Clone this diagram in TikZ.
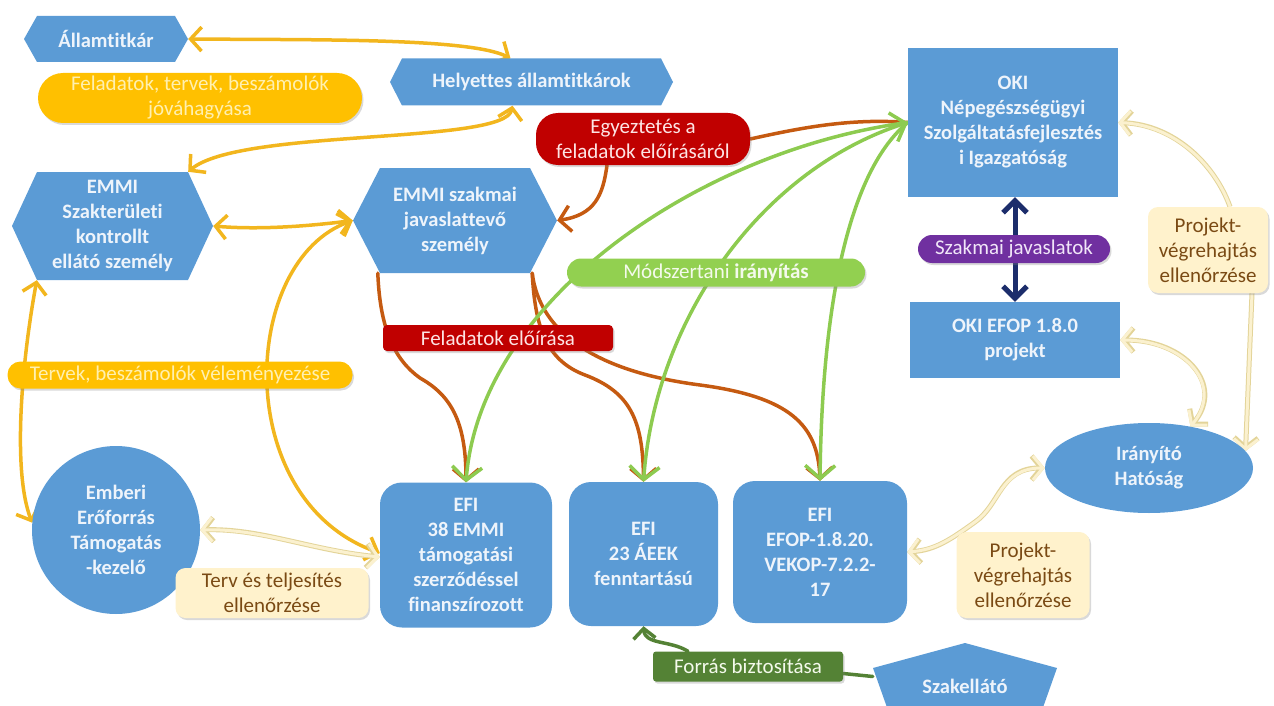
\documentclass[tikz,border=0pt]{standalone}
\usepackage{fontspec}
\setmainfont{Carlito}[Ligatures=NoCommon]
\usetikzlibrary{arrows.meta,shapes.geometric,shadows}
\definecolor{nb}{HTML}{5B9BD5}
\definecolor{nt}{HTML}{EEF4FB}
\definecolor{yel}{HTML}{F2B61E}
\definecolor{yelfill}{HTML}{FFC000}
\definecolor{yeltext}{HTML}{FFF0B0}
\definecolor{redfill}{HTML}{C00000}
\definecolor{redtext}{HTML}{FDE4E4}
\definecolor{brn}{HTML}{C55A11}
\definecolor{grn}{HTML}{8DCB50}
\definecolor{grnfill}{HTML}{92D050}
\definecolor{grntext}{HTML}{F4FAEC}
\definecolor{pur}{HTML}{7030A0}
\definecolor{purtext}{HTML}{F1E6F8}
\definecolor{navy}{HTML}{1C2D6B}
\definecolor{cream}{HTML}{FFF2CC}
\definecolor{creamin}{HTML}{FBF1CF}
\definecolor{creamdark}{HTML}{E3D499}
\definecolor{creamtext}{HTML}{7A4A14}
\definecolor{dgrn}{HTML}{548235}
\pgfdeclarelayer{bg}\pgfsetlayers{bg,main}
\tikzset{
  base/.style={inner sep=0pt, align=center},
  bluetxt/.style={base, text=nt, font=\bfseries\fontsize{20.5}{25}\selectfont},
  rbox/.style={bluetxt, rectangle, fill=nb},
  rrbox/.style={rbox, rounded corners=22pt},
  hexa/.style={bluetxt, rectangle, path picture={\fill[nb]
      (path picture bounding box.west) -- ([xshift=#1]path picture bounding box.north west)
      -- ([xshift=-#1]path picture bounding box.north east) -- (path picture bounding box.east)
      -- ([xshift=-#1]path picture bounding box.south east) -- ([xshift=#1]path picture bounding box.south west) -- cycle;}},
  penta/.style={bluetxt, rectangle, path picture={\fill[nb]
      (path picture bounding box.north) -- ([yshift=-25pt]path picture bounding box.north east)
      -- ([xshift=-22pt]path picture bounding box.south east) -- ([xshift=22pt]path picture bounding box.south west)
      -- ([yshift=-25pt]path picture bounding box.north west) -- cycle;}},
  lab/.style={base, font=\fontsize{21}{25}\selectfont, drop shadow={shadow xshift=1.5pt, shadow yshift=-2pt, opacity=.3}},
  ylab/.style={lab, fill=yelfill, text=yeltext},
  rlab/.style={lab, fill=redfill, text=redtext},
  glab/.style={lab, fill=grnfill, text=grntext},
  plab/.style={lab, fill=pur, text=purtext},
  clab/.style={lab, fill=cream, text=creamtext, rounded corners=10pt},
  dlab/.style={lab, fill=dgrn, text=grntext, rounded corners=3pt},
  conn/.style={line cap=round, line join=round},
  yarr/.style={conn, draw=yel, line width=3.5pt, >={Straight Barb[length=11pt,width=24pt]}},
  brarr/.style={conn, draw=brn, line width=3.5pt, >={Straight Barb[length=11pt,width=26pt]}},
  garr/.style={conn, draw=grn, line width=3.5pt, >={Straight Barb[length=13pt,width=30pt]}},
  narr/.style={conn, draw=navy, line width=5pt, >={Straight Barb[length=12pt,width=24pt]}},
  carr/.style={conn, draw=creamin, line width=3pt, preaction={draw=creamdark, line width=5pt}, >={Straight Barb[length=10pt,width=24pt]}},
  dgarr/.style={conn, draw=dgrn, line width=3.5pt, >={Straight Barb[length=10pt,width=22pt]}},
}
\begin{document}
\begin{tikzpicture}[x=1pt,y=-1pt]
\useasboundingbox (0,0) rectangle (1274,706);
\clip (0,0) rectangle (1274,706);
% blue nodes
\node[hexa=13pt, minimum width=164pt, minimum height=46pt] (Allam) at (106,39) {Államtitkár};
\node[hexa=12pt, minimum width=283pt, minimum height=47pt] (Helyettes) at (531.5,82) {Helyettes államtitkárok};
\node[hexa=25pt, minimum width=201pt, minimum height=108pt] (Szakt) at (112.5,226) {EMMI\\Szakterületi\\kontrollt\\ellátó személy};
\node[hexa=27pt, minimum width=204pt, minimum height=105pt] (Szakmai) at (455,220.5) {EMMI szakmai\\javaslattevő\\személy};
\node[rbox, minimum width=210pt, minimum height=149pt] (OKI) at (1013,122.5) {OKI\\Népegészségügyi\\Szolgáltatásfejlesztés\\i Igazgatóság};
\node[rbox, minimum width=210pt, minimum height=76pt] (OKIEFOP) at (1015,340) {OKI EFOP 1.8.0\\projekt};
\node[rrbox, minimum width=172pt, minimum height=145pt] (EFI38) at (466,555) {EFI\\38 EMMI\\támogatási\\szerződéssel\\finanszírozott};
\node[rrbox, minimum width=149pt, minimum height=144pt] (EFI23) at (643.5,554) {EFI\\23 ÁEEK\\fenntartású};
\node[rrbox, minimum width=174pt, minimum height=142pt] (EFOP) at (820,552) {EFI\\EFOP-1.8.20.\\VEKOP-7.2.2-\\17};
\node[bluetxt, circle, fill=nb, minimum size=168pt] (Emberi) at (116,530) {Emberi\\Erőforrás\\Támogatás\\-kezelő};
\node[bluetxt, ellipse, fill=nb, minimum width=208pt, minimum height=90pt] (Iran) at (1149,468) {Irányító\\Hatóság};
\node[penta, minimum width=184pt, minimum height=87pt] (Szak) at (965,686.5) {Szakellátó};
% labels
\node[ylab, rounded corners=25pt, minimum width=324pt, minimum height=50pt] (Ljova) at (200,98) {Feladatok, tervek, beszámolók\\jóváhagyása};
\node[rlab, rounded corners=22pt, minimum width=214pt, minimum height=52pt] (Egy) at (643,139) {Egyeztetés a\\feladatok előírásáról};
\node[glab, rounded corners=14pt, minimum width=298pt, minimum height=28pt] (Modsz) at (716,272.5) {Módszertani \textbf{irányítás}};
\node[rlab, rounded corners=4pt, minimum width=230pt, minimum height=26pt] (Felad) at (498,338) {Feladatok előírása};
\node[ylab, rounded corners=13pt, minimum width=345pt, minimum height=27pt] (Lterv) at (180,375) {Tervek, beszámolók véleményezése};
\node[plab, rounded corners=14pt, minimum width=192pt, minimum height=28pt] (Lszakm) at (1014,249) {Szakmai javaslatok};
\node[clab, minimum width=120pt, minimum height=86pt] (Proj1) at (1208,250) {Projekt-\\végrehajtás\\ellenőrzése};
\node[clab, minimum width=133pt, minimum height=86pt] (Proj2) at (1023,575) {Projekt-\\végrehajtás\\ellenőrzése};
\node[clab, minimum width=193pt, minimum height=50pt] (Ltervt) at (272,593) {Terv és teljesítés\\ellenőrzése};
\node[dlab, minimum width=190pt, minimum height=30pt] (Forras) at (748,666.5) {Forrás biztosítása};
% connectors
\begin{pgfonlayer}{bg}
\draw[yarr,<->] (Allam.east) .. controls (320,40) and (470,38) .. ([xshift=-21pt]Helyettes.north);
\draw[yarr,<->] ([xshift=-19pt]Helyettes.south) .. controls (505,145) and (240,128) .. ([xshift=-25pt]Szakt.north east);
\draw[yarr,<->] (Szakt.east) .. controls (260,230) and (310,226) .. (Szakmai.west);
\draw[yarr,<->] (Szakmai.west) .. controls (240,260) and (230,500) .. ([yshift=2pt]EFI38.west);
\draw[yarr,<->] ([xshift=25pt]Szakt.south west) .. controls (22,360) and (12,470) .. (Emberi.175);
\draw[brarr] (OKI.west) .. controls (850,118) and (800,128) .. (Egy.east);
\draw[brarr,->] ([xshift=-36pt]Egy.south) .. controls (603,195) and (595,215) .. (Szakmai.east);
\draw[brarr,->] ([xshift=25pt]Szakmai.south west) .. controls (380,330) and (395,360) .. (420,378) .. controls (450,395) and (466,420) .. (EFI38.north);
\draw[brarr,->] ([xshift=-25pt]Szakmai.south east) .. controls (535,325) and (545,360) .. (585,375) .. controls (630,392) and (643,420) .. (EFI23.north);
\draw[brarr,->] ([xshift=-25pt]Szakmai.south east) .. controls (540,335) and (600,372) .. (700,385) .. controls (790,397) and (818,425) .. (EFOP.north);
\draw[garr,->] (OKI.west) .. controls (700,150) and (480,300) .. (EFI38.north);
\draw[garr,<->] (OKI.west) .. controls (760,170) and (655,320) .. (EFI23.north);
\draw[garr,->] (OKI.west) .. controls (850,170) and (822,300) .. (EFOP.north);
\draw[narr,<->] ([xshift=2pt]OKI.south) -- (OKIEFOP.north);
\draw[carr,<-] (OKI.east) .. controls (1175,125) and (1215,165) .. ([xshift=22pt]Proj1.north);
\draw[carr,->] ([xshift=44pt]Proj1.south) -- (Iran.10);
\draw[carr,<->] (OKIEFOP.east) .. controls (1185,340) and (1225,385) .. (Iran.45);
\draw[carr,<->] (Iran.west) .. controls (1000,468) and (1000,505) .. (975,522) .. controls (950,540) and (935,550) .. (EFOP.east);
\draw[carr,<->] (Emberi.east) .. controls (260,528) and (310,550) .. ([yshift=-2pt]EFI38.west);
\draw[dgarr] ([yshift=10pt]Szak.west) -- ([yshift=-7pt]Forras.east);
\draw[dgarr,->] ([xshift=-60pt]Forras.north) .. controls (670,640) and (645,645) .. (EFI23.south);
\end{pgfonlayer}
\end{tikzpicture}
\end{document}
